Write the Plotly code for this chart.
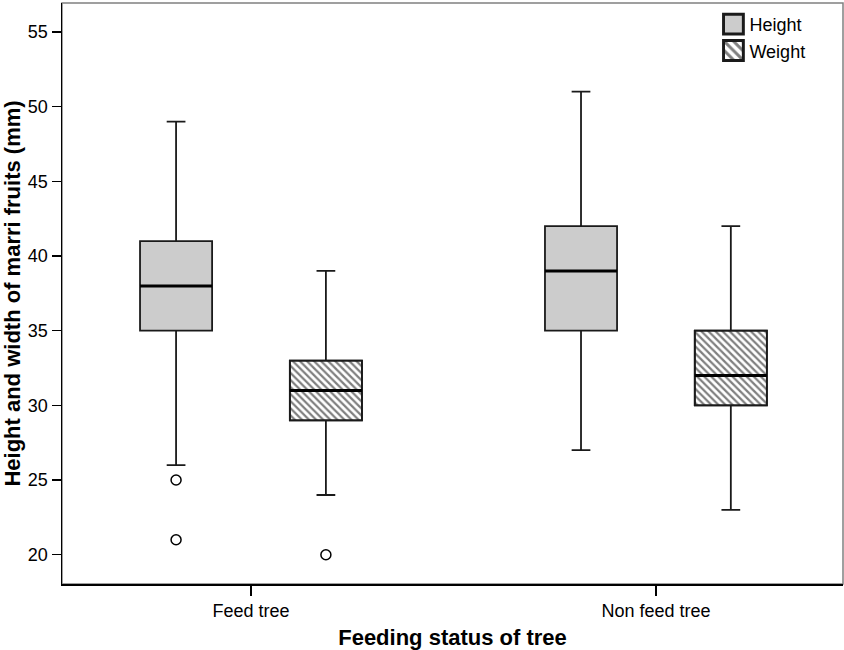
import plotly.graph_objects as go

# ---- data ----
groups = ["Feed tree", "Non feed tree"]
group_pos = [0, 1]

height_lower = [26, 27]
height_q1 = [35, 35]
height_median = [38, 39]
height_q3 = [41, 42]
height_upper = [49, 51]

weight_lower = [24, 23]
weight_q1 = [29, 30]
weight_median = [31, 32]
weight_q3 = [33, 35]
weight_upper = [39, 42]

height_outlier_group = [0, 0]
height_outliers = [25, 21]
weight_outlier_group = [0]
weight_outliers = [20]

# ---- style ----
OFFSET = 0.185
BOX_W = 0.178
FONT = "Arial, Liberation Sans, sans-serif"
LINE_C = "#1a1a1a"

hx = [p - OFFSET for p in group_pos]
wx = [p + OFFSET for p in group_pos]

fig = go.Figure()

fig.add_trace(go.Box(
    x=hx, q1=height_q1, median=height_median, q3=height_q3,
    lowerfence=height_lower, upperfence=height_upper,
    width=BOX_W, whiskerwidth=0.26, boxpoints=False,
    fillcolor="#cccccc", line=dict(color=LINE_C, width=1.8),
    name="Height", hoverinfo="skip"))

fig.add_trace(go.Bar(
    x=wx, y=[a - b for a, b in zip(weight_q3, weight_q1)], base=weight_q1,
    width=BOX_W, name="Weight",
    marker=dict(color="white",
                pattern=dict(shape="\\", fgcolor="black", bgcolor="white",
                             size=5, solidity=0.45),
                line=dict(color=LINE_C, width=1.8)),
    hoverinfo="skip"))

fig.add_trace(go.Box(
    x=wx, q1=weight_q1, median=weight_median, q3=weight_q3,
    lowerfence=weight_lower, upperfence=weight_upper,
    width=BOX_W, whiskerwidth=0.26, boxpoints=False,
    fillcolor="rgba(0,0,0,0)", line=dict(color=LINE_C, width=1.8),
    name="Weight", showlegend=False, hoverinfo="skip"))

# thicker medians
mx, my = [], []
for xs, meds in ((hx, height_median), (wx, weight_median)):
    for x, m in zip(xs, meds):
        mx += [x - BOX_W / 2, x + BOX_W / 2, None]
        my += [m, m, None]
fig.add_trace(go.Scatter(x=mx, y=my, mode="lines",
                         line=dict(color="black", width=3),
                         showlegend=False, hoverinfo="skip"))

# outliers
fig.add_trace(go.Scatter(
    x=[group_pos[g] - OFFSET for g in height_outlier_group] +
      [group_pos[g] + OFFSET for g in weight_outlier_group],
    y=height_outliers + weight_outliers, mode="markers",
    marker=dict(symbol="circle-open", size=10, color="black",
                line=dict(width=1.5)),
    showlegend=False, hoverinfo="skip"))

fig.update_layout(
    width=844, height=650,
    margin=dict(l=62, r=1, t=3, b=66),
    paper_bgcolor="white", plot_bgcolor="white",
    font=dict(family=FONT, size=18, color="black"),
    showlegend=True,
    legend=dict(x=0.829, y=0.995, xanchor="left", yanchor="top",
                bgcolor="rgba(0,0,0,0)", font=dict(size=18),
                itemwidth=30, tracegroupgap=0),
    xaxis=dict(range=[-0.4667, 1.462], tickvals=group_pos, ticktext=groups,
               showline=True, linecolor="black", linewidth=1.5,
               ticks="outside", ticklen=10, tickwidth=1.5, tickcolor="black",
               showgrid=False, zeroline=False,
               title=dict(text="<b>Feeding status of tree</b>", standoff=9)),
    yaxis=dict(range=[18.04, 56.94], tick0=20, dtick=5,
               showline=True, linecolor="black", linewidth=1.5,
               ticks="outside", ticklen=9, tickwidth=1.5, tickcolor="black",
               showgrid=False, zeroline=False,
               title=dict(text="<b>Height and width of marri fruits (mm)</b>", standoff=6)),
    shapes=[dict(type="rect", xref="paper", yref="paper", x0=0, x1=1, y0=0, y1=1,
                 line=dict(color="#808080", width=1.5), layer="below")],
)

post = """
document.body.style.margin = '0';
var gd = document.getElementById('{plot_id}');
function bigIcons() {
  gd.querySelectorAll('.legendpoints path').forEach(function (p) {
    if (p.getAttribute('data-big') === '1') return;
    var t = p.getAttribute('transform') || '';
    p.setAttribute('transform', t + ' translate(4,0) scale(1.65)');
    p.setAttribute('data-big', '1');
  });
}
bigIcons();
gd.on('plotly_afterplot', bigIcons);
"""

fig.write_html("out.html", post_script=post,
               config={"displayModeBar": False, "staticPlot": True})
